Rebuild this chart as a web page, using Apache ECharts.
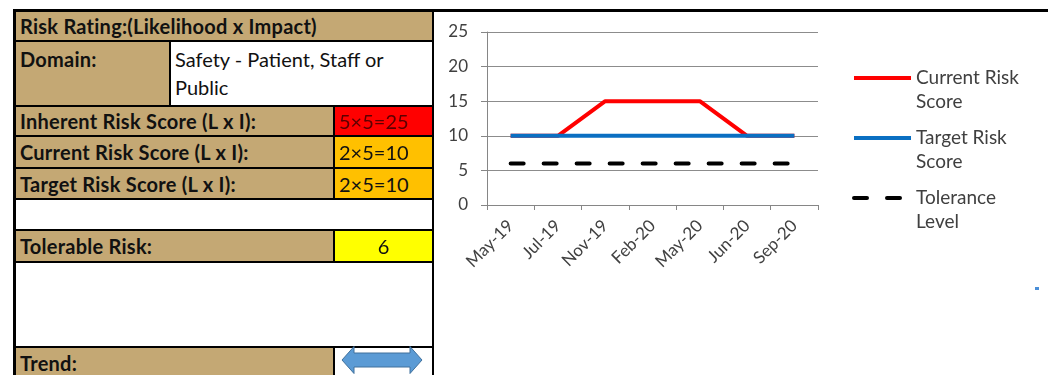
<!DOCTYPE html>
<html>
<head>
<meta charset="utf-8">
<script src="https://cdn.jsdelivr.net/npm/echarts@6/dist/echarts.min.js"></script>
<style>
body { margin: 0; width: 1048px; height: 375px; overflow: hidden; background: #fff; position: relative; font-family: Lato, sans-serif; }
#main { position: absolute; left: 0; top: 0; width: 1048px; height: 375px; }
.c { position: absolute; box-sizing: border-box; border: 2px solid #000; font-size: 20px; color: #111; padding-left: 4px; white-space: nowrap; overflow: hidden; background: #fff; display: flex; align-items: center; }
.top { align-items: flex-start; padding-top: 3px; line-height: 28px; }
.tan { background: #c4a874; font-weight: bold; letter-spacing: 0.25px; }
.red { background: #ff0000; color: #5c0000; }
.amber { background: #ffc000; }
.yellow { background: #ffff00; justify-content: center; padding-left: 0; }
.bar { position: absolute; background: #000; }
</style>
</head>
<body>
<div id="main"></div>

<div class="c tan" style="left:14px;top:10px;width:420px;height:32px;">Risk Rating:(Likelihood x Impact)</div>
<div class="c tan top" style="left:14px;top:40px;width:157px;height:67px;">Domain:</div>
<div class="c top" style="left:169px;top:40px;width:265px;height:67px;">Safety - Patient, Staff or<br>Public</div>
<div class="c tan" style="left:14px;top:105px;width:321px;height:32px;">Inherent Risk Score (L x I):</div>
<div class="c red" style="left:333px;top:105px;width:101px;height:32px;">5×5=25</div>
<div class="c tan" style="left:14px;top:135px;width:321px;height:34px;">Current Risk Score (L x I):</div>
<div class="c amber" style="left:333px;top:135px;width:101px;height:34px;">2×5=10</div>
<div class="c tan" style="left:14px;top:167px;width:321px;height:33px;">Target Risk Score (L x I):</div>
<div class="c amber" style="left:333px;top:167px;width:101px;height:33px;">2×5=10</div>
<div class="c" style="left:14px;top:198px;width:420px;height:33px;"></div>
<div class="c tan" style="left:14px;top:229px;width:321px;height:34px;">Tolerable Risk:</div>
<div class="c yellow" style="left:333px;top:229px;width:101px;height:34px;">6</div>
<div class="c" style="left:14px;top:261px;width:420px;height:87px;"></div>
<div class="c tan" style="left:14px;top:346px;width:321px;height:33px;">Trend:</div>
<div class="c" style="left:333px;top:346px;width:101px;height:33px;"></div>

<div class="bar" style="left:13px;top:9px;width:1035px;height:3px;"></div>
<div class="bar" style="left:13px;top:9px;width:3px;height:366px;"></div>

<svg style="position:absolute;left:0;top:0;" width="1048" height="375">
  <polygon points="342,360 354,346.5 354,353 410,353 410,346.5 422,360 410,373.5 410,367 354,367 354,373.5"
           fill="#5b9bd5" stroke="#41719c" stroke-width="1"/>
  <rect x="1035" y="287" width="4" height="3" fill="#4a8fd8"/>
</svg>

<script>
var months = ['May-19', 'Jul-19', 'Nov-19', 'Feb-20', 'May-20', 'Jun-20', 'Sep-20'];
var currentScore = [10, 10, 15, 15, 15, 10, 10];
var targetScore = [10, 10, 10, 10, 10, 10, 10];
var toleranceLevel = [6, 6, 6, 6, 6, 6, 6];

var myChart = echarts.init(document.getElementById('main'));
var textColor = '#404040';
var axisGrey = '#868686';

myChart.setOption({
    animation: false,
    textStyle: { fontFamily: 'Lato' },
    grid: { left: 487, right: 230, top: 32, bottom: 170 },
    legend: {
        orient: 'vertical',
        left: 852,
        top: 42,
        padding: 0,
        itemWidth: 57,
        itemHeight: 14,
        itemGap: -12,
        itemStyle: { color: 'transparent', borderWidth: 0, opacity: 0 },
        lineStyle: { width: 4 },
        textStyle: { fontSize: 19, color: textColor, lineHeight: 24 },
        // leading blank line keeps the first text line level with the icon
        formatter: function (name) {
            return '\n' + name.replace(' Risk ', ' Risk\n').replace('Tolerance ', 'Tolerance\n');
        },
        data: ['Current Risk Score', 'Target Risk Score', 'Tolerance Level']
    },
    xAxis: {
        type: 'category',
        data: months,
        boundaryGap: true,
        axisLine: { lineStyle: { color: axisGrey } },
        axisTick: { show: true, length: 5, lineStyle: { color: axisGrey } },
        axisLabel: { rotate: 45, color: textColor, fontSize: 17, margin: 18, interval: 0 }
    },
    yAxis: {
        type: 'value',
        min: 0,
        max: 25,
        interval: 5,
        axisLine: { show: true, lineStyle: { color: axisGrey } },
        axisTick: { show: true, length: 6, lineStyle: { color: axisGrey } },
        splitLine: { lineStyle: { color: '#8c8c8c' } },
        axisLabel: { color: textColor, fontSize: 17, margin: 19 }
    },
    series: [
        {
            name: 'Current Risk Score',
            type: 'line',
            data: currentScore,
            symbol: 'none',
            color: '#ff0000',
            lineStyle: { width: 4, color: '#ff0000' }
        },
        {
            name: 'Target Risk Score',
            type: 'line',
            data: targetScore,
            symbol: 'none',
            color: '#0a6fc2',
            lineStyle: { width: 4, color: '#0a6fc2' }
        },
        {
            name: 'Tolerance Level',
            type: 'line',
            data: toleranceLevel,
            symbol: 'none',
            color: '#000',
            lineStyle: { width: 4, color: '#000', type: [13, 20], cap: 'round' }
        }
    ]
});
</script>
</body>
</html>
